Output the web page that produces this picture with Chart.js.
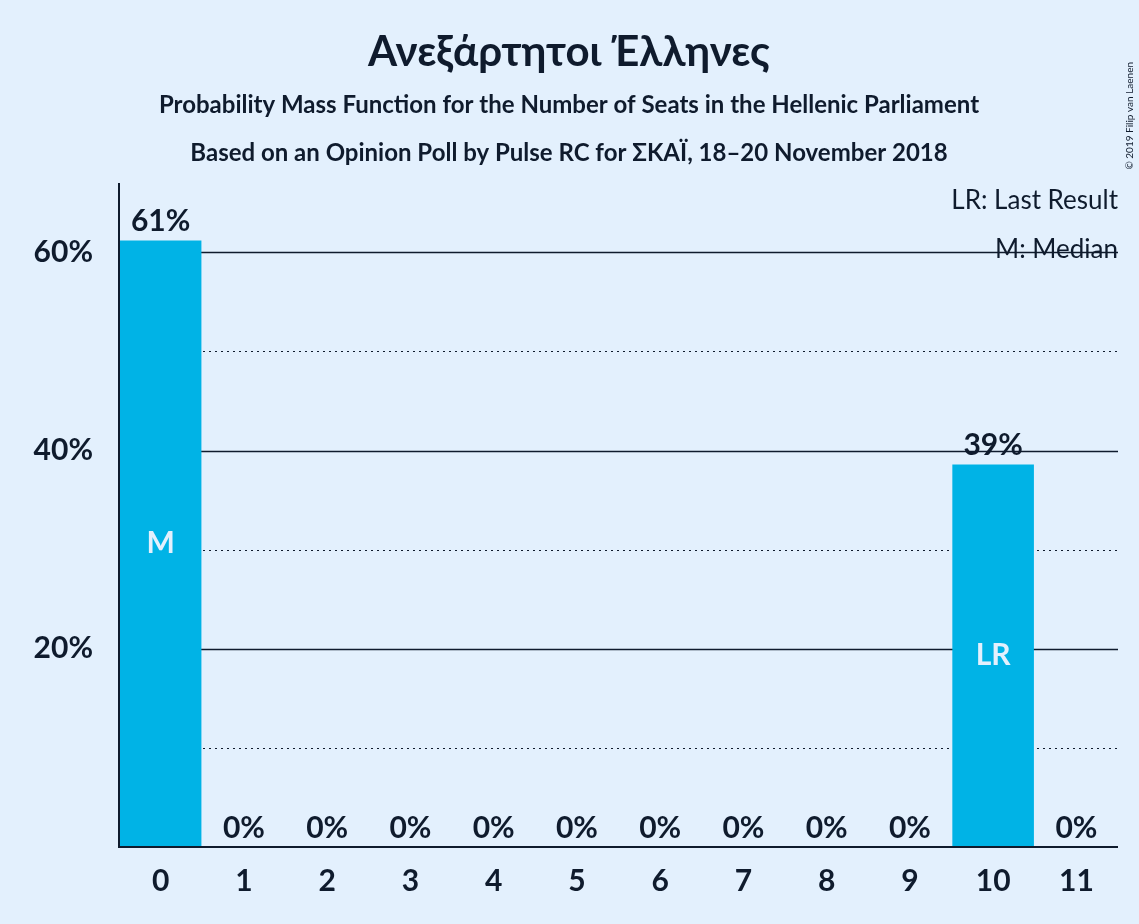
<!DOCTYPE html>
<html>
<head>
<meta charset="utf-8">
<script src="https://cdn.jsdelivr.net/npm/chart.js@4"></script>
<style>
  html, body { margin: 0; padding: 0; background: #e3f0fd; }
  #wrap { width: 1139px; height: 924px; position: relative; }
</style>
</head>
<body>
<div id="wrap"><canvas id="chart1"></canvas></div>
<script>
const seats = ['0', '1', '2', '3', '4', '5', '6', '7', '8', '9', '10', '11'];
const probs = [61.2, 0, 0, 0, 0, 0, 0, 0, 0, 0, 38.6, 0];
const barLabels = ['61%', '0%', '0%', '0%', '0%', '0%', '0%', '0%', '0%', '0%', '39%', '0%'];
const inBarMarks = { 0: 'M', 10: 'LR' };
const yTicks = [20, 40, 60];

const ink = '#0f1b2d';
const font = 'Lato, "Open Sans", sans-serif';

const decor = {
  id: 'decor',
  beforeDatasetsDraw(chart) {
    const { ctx, chartArea: a, scales: { y } } = chart;
    ctx.save();
    ctx.strokeStyle = ink;
    for (let v = 10; v <= 60; v += 10) {
      const py = Math.round(y.getPixelForValue(v)) + 0.5;
      ctx.lineWidth = v % 20 ? 1 : 1.5;
      ctx.setLineDash(v % 20 ? [2, 4] : []);
      ctx.beginPath();
      ctx.moveTo(a.left, py);
      ctx.lineTo(a.right, py);
      ctx.stroke();
    }
    ctx.restore();
  },
  afterDatasetsDraw(chart) {
    const { ctx, chartArea: a, scales: { x, y } } = chart;
    ctx.save();
    // axis lines
    ctx.strokeStyle = ink;
    ctx.lineWidth = 2;
    ctx.beginPath();
    ctx.moveTo(a.left, a.top);
    ctx.lineTo(a.left, a.bottom);
    ctx.lineTo(a.right, a.bottom);
    ctx.stroke();

    ctx.textAlign = 'center';
    ctx.font = 'bold 30px ' + font;
    probs.forEach((p, i) => {
      const px = x.getPixelForValue(i);
      ctx.fillStyle = ink;
      ctx.textBaseline = 'bottom';
      ctx.fillText(barLabels[i], px, y.getPixelForValue(p) - 4);
      if (inBarMarks[i]) {
        ctx.fillStyle = '#e3f0fd';
        ctx.textBaseline = 'middle';
        ctx.fillText(inBarMarks[i], px, y.getPixelForValue(p / 2));
      }
    });

    ctx.fillStyle = ink;
    ctx.textBaseline = 'alphabetic';
    ctx.font = 'bold 42px ' + font;
    ctx.fillText('Ανεξάρτητοι Έλληνες', 569, 66);
    ctx.font = 'bold 24px ' + font;
    ctx.fillText('Probability Mass Function for the Number of Seats in the Hellenic Parliament', 569, 113);
    ctx.fillText('Based on an Opinion Poll by Pulse RC for ΣΚΑΪ, 18–20 November 2018', 569, 161);

    ctx.textAlign = 'right';
    ctx.font = '26px ' + font;
    ctx.fillText('LR: Last Result', 1118, 209);
    ctx.fillText('M: Median', 1118, 258);

    ctx.font = '10px ' + font;
    ctx.translate(1133, 462 - 400);
    ctx.rotate(-Math.PI / 2);
    ctx.textAlign = 'right';
    ctx.fillText('© 2019 Filip van Laenen', 0, 0);
    ctx.restore();
  }
};

new Chart(document.getElementById('chart1').getContext('2d'), {
  type: 'bar',
  data: {
    labels: seats,
    datasets: [{
      data: probs,
      backgroundColor: '#00b3e6',
      barPercentage: 0.98,
      categoryPercentage: 1
    }]
  },
  options: {
    responsive: true,
    maintainAspectRatio: false,
    animation: false,
    layout: { padding: { top: 183, right: 21, left: 0, bottom: 0 } },
    plugins: { legend: { display: false }, tooltip: { enabled: false } },
    scales: {
      x: {
        grid: { display: false },
        border: { display: false },
        ticks: { color: ink, font: { family: font, size: 30, weight: 'bold' }, padding: 8 },
        afterFit: s => { s.height = 77; }
      },
      y: {
        min: 0,
        max: 67,
        afterBuildTicks: s => { s.ticks = yTicks.map(v => ({ value: v })); },
        grid: { display: false },
        border: { display: false },
        ticks: {
          color: ink,
          font: { family: font, size: 30, weight: 'bold' },
          padding: 18,
          callback: v => v + '%'
        },
        afterFit: s => { s.width = 119; }
      }
    }
  },
  plugins: [decor]
});
</script>
</body>
</html>
